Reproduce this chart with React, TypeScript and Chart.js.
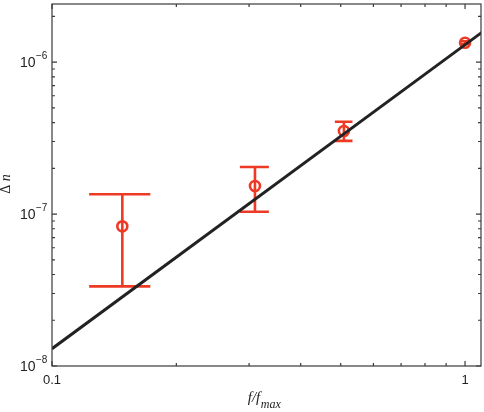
import React, { useEffect, useRef } from "react";
import { Chart, registerables } from "chart.js";
Chart.register(...registerables);

// data
const freqRatio = [0.148, 0.31, 0.509, 1.0];
const deltaN = [8.3e-8, 1.53e-7, 3.52e-7, 1.34e-6];
const errLow = [3.34e-8, 1.035e-7, 3.03e-7, 1.31e-6];
const errHigh = [1.35e-7, 2.04e-7, 4.05e-7, 1.37e-6];
const fitX = [0.1, 1.1];
const fitY = [1.3e-8, 1.573e-6];
const xTickValues = [0.1, 1];
const xTickLabels = ["0.1", "1"];
const yTickExponents = [-8, -7, -6];
const capHalfWidth = 0.025; // data units (x)

const X_MIN = 0.1, X_MAX = 1.093, Y_MIN = 1e-8, Y_MAX = 2.41e-6;
const RED = "#ee3a24";
const AXIS = "#3a3a3a";

const decorPlugin = {
  id: "decor",
  beforeDatasetsDraw(chart: any) {
    const { ctx, scales } = chart;
    const xs = scales.x, ys = scales.y;
    ctx.save();
    ctx.strokeStyle = RED;
    ctx.lineWidth = 2.6;
    ctx.lineCap = "butt";
    for (let i = 0; i < freqRatio.length; i++) {
      const px = xs.getPixelForValue(freqRatio[i]);
      const pl = xs.getPixelForValue(freqRatio[i] - capHalfWidth);
      const pr = xs.getPixelForValue(freqRatio[i] + capHalfWidth);
      const pLo = ys.getPixelForValue(errLow[i]);
      const pHi = ys.getPixelForValue(errHigh[i]);
      ctx.beginPath();
      ctx.moveTo(px, pLo); ctx.lineTo(px, pHi);
      ctx.moveTo(pl, pLo); ctx.lineTo(pr, pLo);
      ctx.moveTo(pl, pHi); ctx.lineTo(pr, pHi);
      ctx.stroke();
    }
    ctx.restore();
  },
  afterDraw(chart: any) {
    const { ctx, scales, chartArea } = chart;
    const xs = scales.x, ys = scales.y;
    const { left, right, top, bottom } = chartArea;
    ctx.save();
    // frame
    ctx.strokeStyle = AXIS;
    ctx.lineWidth = 1.2;
    ctx.strokeRect(left, top, right - left, bottom - top);
    // ticks
    ctx.beginPath();
    for (let d = -9; d <= 0; d++) {
      for (let m = 1; m <= 9; m++) {
        const v = m * Math.pow(10, d);
        if (v < Y_MIN * 0.999 || v > Y_MAX) continue;
        const p = ys.getPixelForValue(v);
        const len = m === 1 ? 5 : 3;
        ctx.moveTo(left, p); ctx.lineTo(left + len, p);
        ctx.moveTo(right, p); ctx.lineTo(right - len, p);
      }
    }
    for (let d = -2; d <= 1; d++) {
      for (let m = 1; m <= 9; m++) {
        const v = m * Math.pow(10, d);
        if (v < X_MIN * 0.999 || v > X_MAX) continue;
        const p = xs.getPixelForValue(v);
        const len = m === 1 ? 5 : 3;
        ctx.moveTo(p, bottom); ctx.lineTo(p, bottom - len);
        ctx.moveTo(p, top); ctx.lineTo(p, top + len);
      }
    }
    ctx.stroke();

    // y tick labels with superscripts
    ctx.fillStyle = "#222";
    for (const e of yTickExponents) {
      const p = ys.getPixelForValue(Math.pow(10, e));
      ctx.font = "14px 'Liberation Sans', Arial, sans-serif";
      ctx.textAlign = "right";
      ctx.textBaseline = "alphabetic";
      ctx.fillText("10", 35.5, p + 5);
      ctx.font = "10px 'Liberation Sans', Arial, sans-serif";
      ctx.textAlign = "left";
      ctx.fillText("\u2212" + String(-e), 36, p - 3.5);
    }
    // x tick labels
    ctx.font = "13px 'Liberation Sans', Arial, sans-serif";
    ctx.textAlign = "center";
    ctx.textBaseline = "alphabetic";
    xTickValues.forEach((v, i) => {
      ctx.fillText(xTickLabels[i], xs.getPixelForValue(v), 384);
    });

    // x title: f/f_max
    ctx.textAlign = "left";
    const bigF = "italic 15px 'Liberation Serif', 'Times New Roman', serif";
    const smallF = "italic 12px 'Liberation Serif', 'Times New Roman', serif";
    ctx.font = bigF;
    const t1 = "f/f";
    const w1 = ctx.measureText(t1).width;
    ctx.font = smallF;
    const t2 = "max";
    const w2 = ctx.measureText(t2).width;
    const startX = 264 - (w1 + w2) / 2;
    ctx.font = bigF;
    ctx.fillText(t1, startX, 402);
    ctx.font = smallF;
    ctx.fillText(t2, startX + w1 + 0.5, 407.5);

    // y title: Δ n
    ctx.translate(10, 184);
    ctx.rotate(-Math.PI / 2);
    ctx.font = "14px 'Liberation Serif', 'Times New Roman', serif";
    const a = "\u0394 ";
    const wa = ctx.measureText(a).width;
    ctx.font = "italic 14px 'Liberation Serif', 'Times New Roman', serif";
    const wb = ctx.measureText("n").width;
    ctx.textAlign = "left";
    ctx.font = "14px 'Liberation Serif', 'Times New Roman', serif";
    ctx.fillText(a, -(wa + wb) / 2, 0);
    ctx.font = "italic 14px 'Liberation Serif', 'Times New Roman', serif";
    ctx.fillText("n", -(wa + wb) / 2 + wa, 0);
    ctx.restore();
  },
};

export default function App() {
  const ref = useRef<HTMLCanvasElement | null>(null);
  useEffect(() => {
    if (!ref.current) return;
    const chart = new Chart(ref.current, {
      type: "scatter",
      data: {
        datasets: [
          {
            type: "line",
            label: "fit",
            data: fitX.map((x, i) => ({ x, y: fitY[i] })),
            borderColor: "#222222",
            borderWidth: 3,
            pointRadius: 0,
            fill: false,
            order: 0,
          } as any,
          {
            type: "scatter",
            label: "measured",
            data: freqRatio.map((x, i) => ({ x, y: deltaN[i] })),
            borderColor: RED,
            backgroundColor: "rgba(255,255,255,0)",
            borderWidth: 2.6,
            pointRadius: 5,
            order: 1,
          },
        ],
      },
      options: {
        animation: false,
        responsive: false,
        devicePixelRatio: 1,
        layout: { autoPadding: false, padding: { top: 4, right: 3, left: 0, bottom: 0 } },
        plugins: { legend: { display: false }, tooltip: { enabled: false } },
        scales: {
          x: {
            type: "logarithmic",
            min: X_MIN,
            max: X_MAX,
            grid: { display: false },
            border: { display: false },
            ticks: { display: false },
            afterFit: (s: any) => { s.height = 46; },
          },
          y: {
            type: "logarithmic",
            min: Y_MIN,
            max: Y_MAX,
            grid: { display: false },
            border: { display: false },
            ticks: { display: false },
            afterFit: (s: any) => { s.width = 52; },
          },
        },
      },
      plugins: [decorPlugin],
    });
    return () => chart.destroy();
  }, []);
  return (
    <div style={{ position: "absolute", left: 0, top: 0, width: 484, height: 412, background: "#fff" }}>
      <canvas ref={ref} width={484} height={412} style={{ width: 484, height: 412, display: "block" }} />
    </div>
  );
}
